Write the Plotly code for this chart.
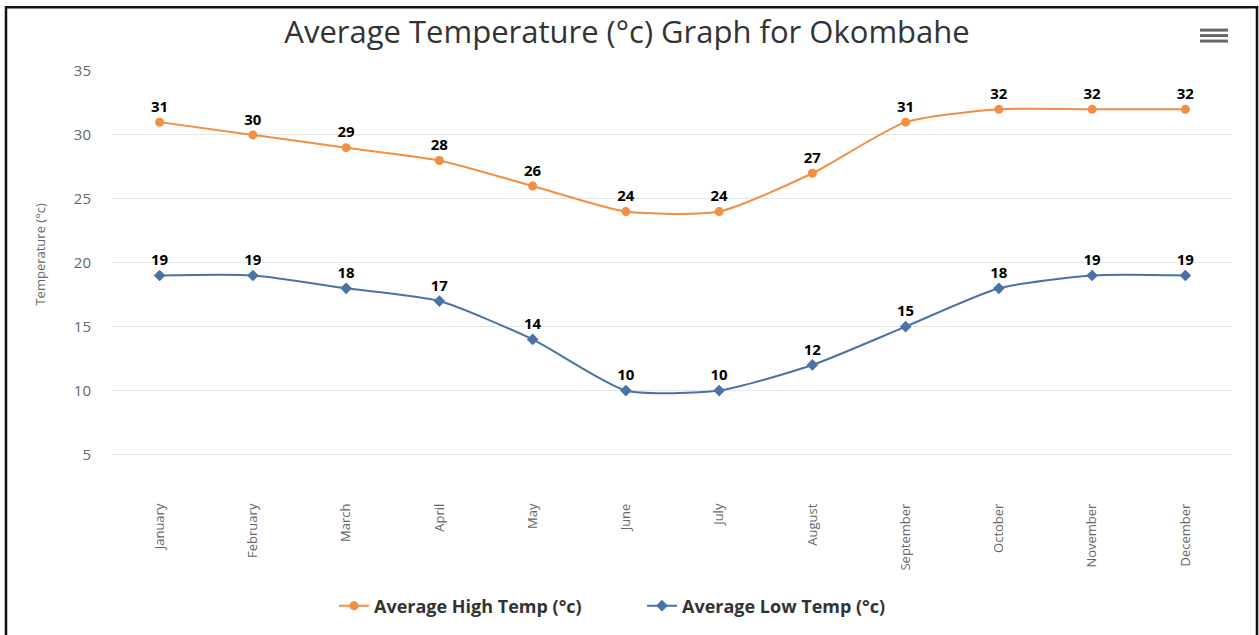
import plotly.graph_objects as go

months = ["January", "February", "March", "April", "May", "June", "July",
          "August", "September", "October", "November", "December"]
high_temp = [31, 30, 29, 28, 26, 24, 24, 27, 31, 32, 32, 32]
low_temp = [19, 19, 18, 17, 14, 10, 10, 12, 15, 18, 19, 19]
y_ticks = [5, 10, 15, 20, 25, 30, 35]

W, H = 1259, 635
L, R, T, B = 113, 27, 71, 154
PW, PH = W - L - R, H - T - B


def px(x):
    return (x - L) / PW


def py(y):
    return (H - B - y) / PH


ORANGE = "#f28f43"
BLUE = "#4a72a6"
FONT = "Open Sans, Noto Sans, sans-serif"

fig = go.Figure()
fig.add_trace(go.Scatter(
    x=months, y=high_temp, name="Average High Temp (°c)",
    mode="lines+markers+text", text=[str(v) for v in high_temp],
    textposition="top center",
    textfont=dict(family=FONT, size=15, color="#000000", weight="bold"),
    line=dict(color=ORANGE, width=2, shape="spline", smoothing=0.6),
    marker=dict(symbol="circle", size=9, color=ORANGE),
))
fig.add_trace(go.Scatter(
    x=months, y=low_temp, name="Average Low Temp (°c)",
    mode="lines+markers+text", text=[str(v) for v in low_temp],
    textposition="top center",
    textfont=dict(family=FONT, size=15, color="#000000", weight="bold"),
    line=dict(color=BLUE, width=2, shape="spline", smoothing=0.6),
    marker=dict(symbol="diamond", size=9, color=BLUE),
))

shapes = [
    # outer frame
    dict(type="rect", xref="paper", yref="paper",
         x0=px(6), x1=px(1257), y0=py(660), y1=py(7),
         line=dict(color="#111111", width=2.5), layer="above"),
]
for yy in (30, 35.5, 41):
    shapes.append(dict(type="line", xref="paper", yref="paper",
                       x0=px(1200), x1=px(1228), y0=py(yy), y1=py(yy),
                       line=dict(color="#666666", width=3)))

fig.update_layout(
    width=W, height=H,
    margin=dict(l=L, r=R, t=T, b=B, pad=0),
    paper_bgcolor="white", plot_bgcolor="white",
    font=dict(family=FONT, color="#666666"),
    title=dict(text="Average Temperature (°c) Graph for Okombahe",
               x=627 / W, xanchor="center", y=1 - 32 / H, yanchor="middle",
               font=dict(family=FONT, size=31, color="#333333")),
    xaxis=dict(
        type="category", range=[-0.5, 11.5], showgrid=False, zeroline=False,
        showline=False, ticks="", tickangle=-90,
        tickfont=dict(family=FONT, size=13, color="#666666"),
        ticklabelstandoff=20,
    ),
    yaxis=dict(
        range=[3, 35], tickvals=y_ticks, showgrid=True, gridcolor="#e6e6e6",
        gridwidth=1, zeroline=False, showline=False, ticks="",
        tickfont=dict(family=FONT, size=15, color="#666666"),
        ticklabelstandoff=21,
    ),
    showlegend=True,
    legend=dict(orientation="h", xanchor="center", x=px(642),
                yanchor="middle", y=py(606),
                font=dict(family=FONT, size=18, color="#333333", weight="bold"),
                itemwidth=30, entrywidth=263, entrywidthmode="pixels",
                bgcolor="rgba(0,0,0,0)"),
    annotations=[dict(text="Temperature (°c)", xref="paper", yref="paper",
                      x=px(40), y=py(255), textangle=-90, showarrow=False,
                      font=dict(family=FONT, size=13, color="#666666"),
                      xanchor="center", yanchor="middle")],
    shapes=shapes,
)

fig.write_html("out.html", config={"displayModeBar": False},
               post_script="document.body.style.margin='0';document.body.style.overflow='hidden';")
